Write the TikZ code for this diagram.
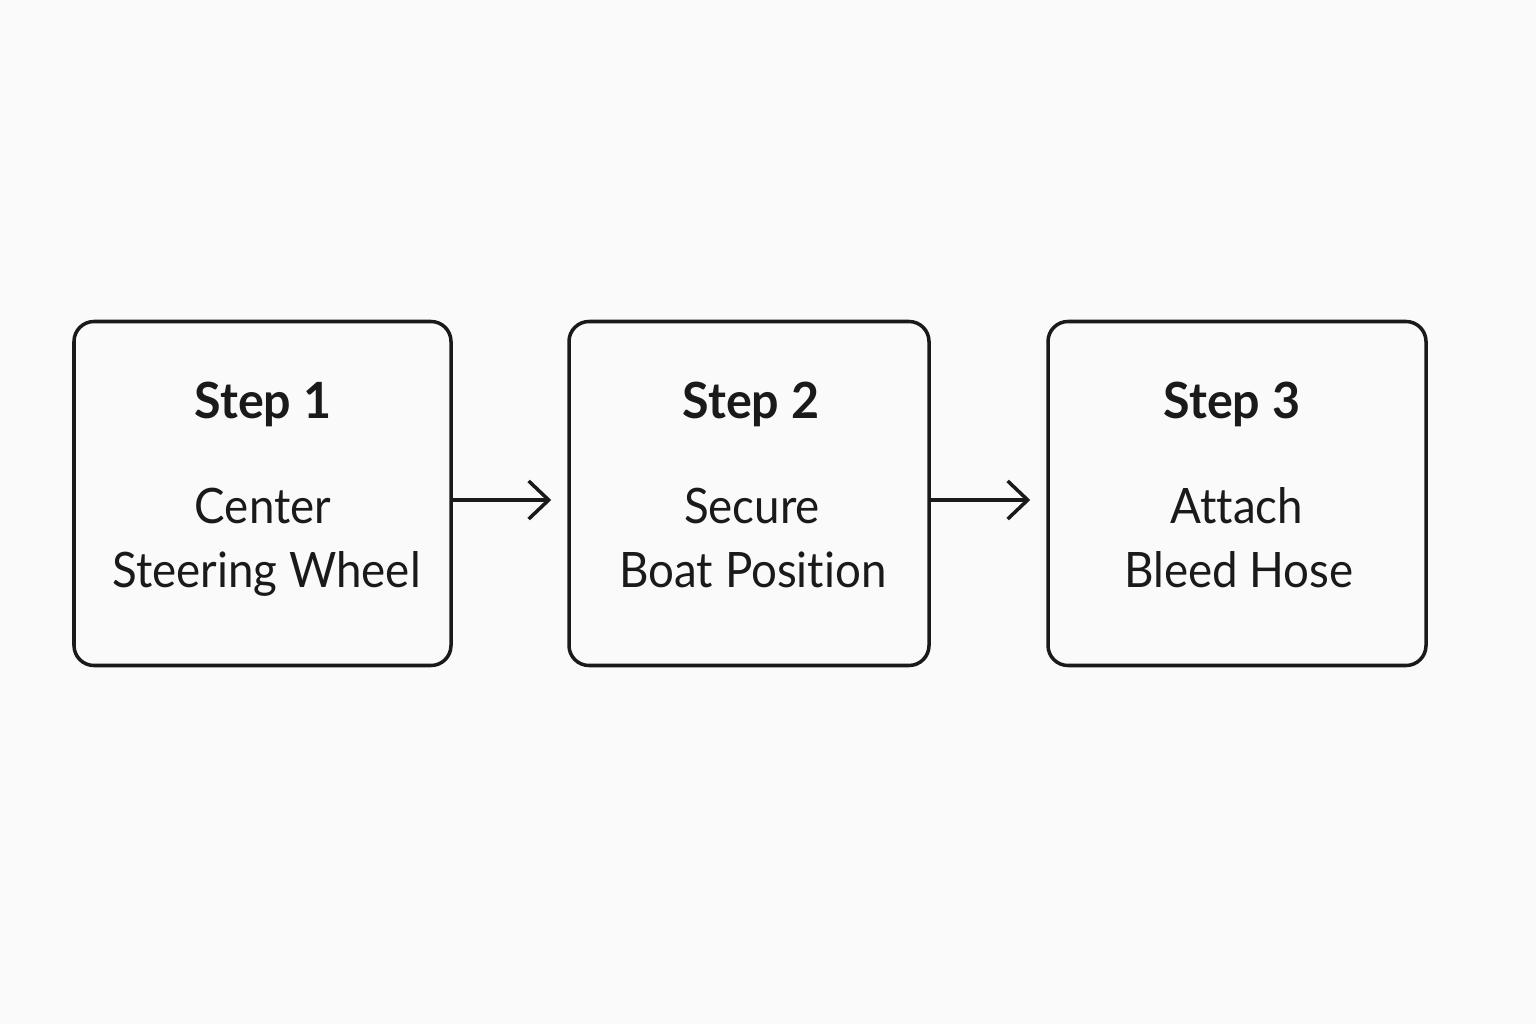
\documentclass[tikz,border=0pt]{standalone}
\usepackage{fontspec}
\setmainfont{Lato}[Ligatures=NoCommon]
\newfontfamily\bodyfont{Lato}[FakeStretch=0.935, Ligatures=NoCommon]
\newfontfamily\titlefont{Lato}[FakeStretch=0.97, Ligatures=NoCommon]
\usetikzlibrary{arrows.meta}
\definecolor{bg}{HTML}{FAFAFA}
\definecolor{ink}{HTML}{1A1A1A}
\tikzset{
  stepbox/.style={draw=ink, line width=1pt, rounded corners=0.2cm, minimum width=#1, minimum height=3.44cm, inner sep=0pt},
  title/.style={anchor=base, text=ink, font=\titlefont\fontsize{14.2}{17}\selectfont\bfseries},
  body/.style={anchor=base, text=ink, font=\bodyfont\fontsize{13.9}{17}\selectfont},
  arr/.style={draw=ink, line width=1pt, -{Straight Barb[length=0.2cm,width=0.38cm,line width=1pt]}}
}
\begin{document}
\begin{tikzpicture}
\fill[bg] (0,0) rectangle (15.36,10.24);
\useasboundingbox (0,0) rectangle (15.36,10.24);
% boxes
\node[stepbox=3.77cm] (b1) at (2.625,5.305) {};
\node[stepbox=3.60cm] (b2) at (7.49,5.305) {};
\node[stepbox=3.78cm] (b3) at (12.37,5.305) {};
% titles (baseline y=418px)
\node[title] (t1) at (2.63,6.06) {Step 1};
\node[title] (t2) at (7.51,6.06) {Step 2};
\node[title] (t3) at (12.32,6.06) {Step 3};
% bodies (baselines 523, 587)
\node[body] (c1a) at (2.63,5.01) {Center};
\node[body] (c1b) at (2.665,4.37) {Steering Wheel};
\node[body] (c2a) at (7.52,5.01) {Secure};
\node[body] (c2b) at (7.53,4.37) {Boat Position};
\node[body] (c3a) at (12.37,5.01) {Attach};
\node[body] (c3b) at (12.39,4.37) {Bleed Hose};
% arrows
\draw[arr] ([yshift=-0.065cm]b1.east) -- ([xshift=-0.16cm,yshift=-0.065cm]b2.west);
\draw[arr] ([yshift=-0.065cm]b2.east) -- ([xshift=-0.16cm,yshift=-0.065cm]b3.west);
\end{tikzpicture}
\end{document}
